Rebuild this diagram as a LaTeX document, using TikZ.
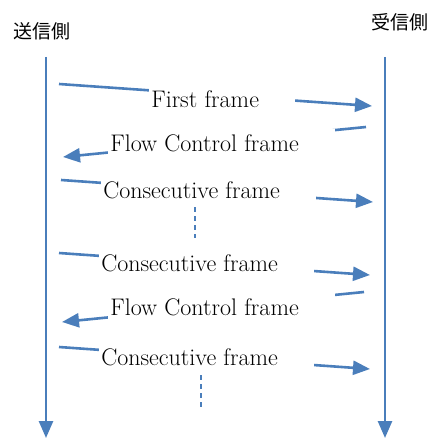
\documentclass[tikz,border=0pt]{standalone}
\usepackage{fontspec}
\newfontfamily\jpfont{Noto Sans CJK JP}
\usetikzlibrary{arrows.meta}
\definecolor{lineblue}{RGB}{74,126,187}
\tikzset{
  flow/.style={draw=lineblue, line width=2.6pt},
  tipend/.style={-{Triangle[length=17pt,width=14pt]}},
  side/.style={font=\jpfont\fontsize{19}{22}\selectfont},
  lbl/.style={fill=white, inner xsep=2pt, inner ysep=5pt, anchor=west,
    font=\fontsize{24}{28}\selectfont, execute at end node={\hspace*{34pt}}},
  pause/.style={draw=lineblue, line width=1.8pt, dash pattern=on 5pt off 4pt},
}

\begin{document}
\begin{tikzpicture}[x=1pt, y=-1pt]
\useasboundingbox (0,0) rectangle (428,438);
\node[side] (sender) at (42,31) {送信側};
\node[side] (receiver) at (400,22) {受信側};
% lifelines
\coordinate (stop) at (46,57);
\coordinate (sbot) at (46,438);
\coordinate (rtop) at (385,57);
\coordinate (rbot) at (385,438);
\draw[flow, tipend] (stop) -- (sbot);
\draw[flow, tipend] (rtop) -- (rbot);

% end points of the frames
\coordinate (s1) at (59,84);  \coordinate (r1) at (372,106);
\coordinate (r2) at (366,127); \coordinate (s2) at (63,157);
\coordinate (s3) at (61,180); \coordinate (r3) at (373,202);
\coordinate (s4) at (59,253); \coordinate (r4) at (370,275);
\coordinate (r5) at (364,292); \coordinate (s5) at (62,322);
\coordinate (s6) at (59,347); \coordinate (r6) at (370,369);

% frames
\draw[flow, tipend] (s1) -- (r1) node[lbl] (f1) at (148,99) {First frame};
\draw[flow, tipend] (r2) -- (s2) node[lbl] (f2) at (107,143) {Flow Control frame};
\draw[flow, tipend] (s3) -- (r3) node[lbl] (f3) at (100,190) {Consecutive frame};
\draw[flow, tipend] (s4) -- (r4) node[lbl] (f4) at (98,263) {Consecutive frame};
\draw[flow, tipend] (r5) -- (s5) node[lbl] (f5) at (107,307) {Flow Control frame};
\draw[flow, tipend] (s6) -- (r6) node[lbl] (f6) at (98,357) {Consecutive frame};

% dots
\coordinate (d1a) at (195,207); \coordinate (d1b) at (195,238);
\coordinate (d2a) at (201,375); \coordinate (d2b) at (201,408);
\draw[pause] (d1a) -- (d1b);
\draw[pause] (d2a) -- (d2b);
\end{tikzpicture}
\end{document}
